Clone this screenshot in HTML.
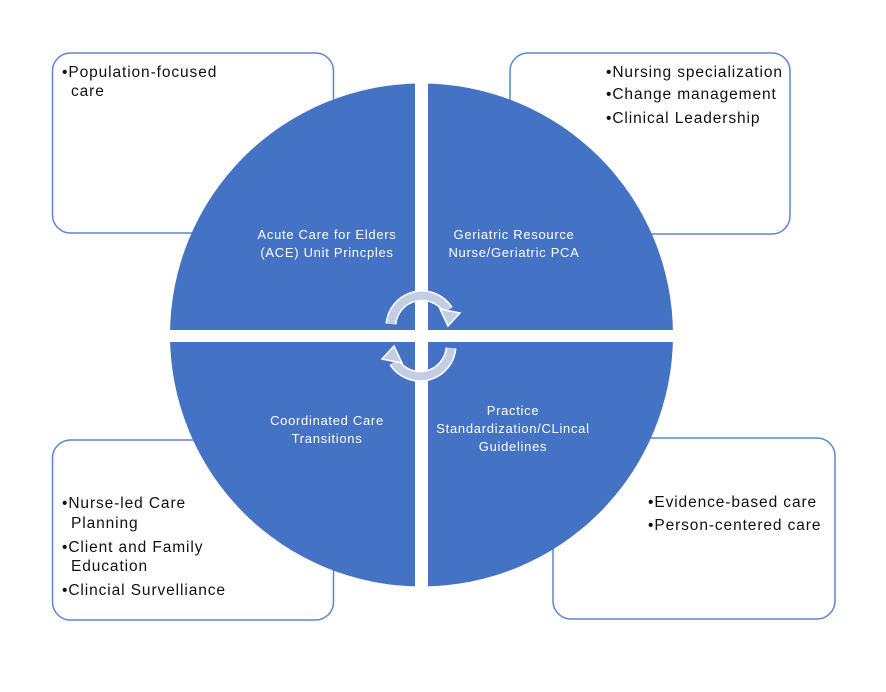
<!DOCTYPE html>
<html><head><meta charset="utf-8"><style>
html,body{margin:0;padding:0;background:#fff;}
svg{display:block;}
text{font-family:"Liberation Sans",sans-serif;}
.b{font-size:15.5px;fill:#111;letter-spacing:0.9px;}
.w{font-size:13px;fill:#fff;text-anchor:middle;letter-spacing:0.7px;}
</style></head><body>
<svg width="886" height="692" viewBox="0 0 886 692" xmlns="http://www.w3.org/2000/svg">
<g fill="#fff" stroke="#5b86cf" stroke-width="1.5">
<rect x="52.5" y="53" width="281" height="180" rx="18"/>
<rect x="510" y="53" width="280" height="181" rx="18"/>
<rect x="52.5" y="440" width="281" height="180" rx="18"/>
<rect x="553" y="438" width="282" height="181" rx="18"/>
</g>
<circle cx="421.5" cy="335" r="251.5" fill="#4472c4"/>
<rect x="415" y="80" width="13" height="512" fill="#fff"/>
<rect x="166" y="330" width="512" height="12" fill="#fff"/>
<g fill="none" stroke-linecap="butt">
<path d="M391 324 A31 31 0 0 1 448 310" stroke="#fff" stroke-width="11"/>
<path d="M391 324 A31 31 0 0 1 448 310" stroke="#c3cde4" stroke-width="8"/>
<path d="M451 348 A31 31 0 0 1 394 362" stroke="#fff" stroke-width="11"/>
<path d="M451 348 A31 31 0 0 1 394 362" stroke="#c3cde4" stroke-width="8"/>
</g>
<polygon points="440,309 460,313 448,326" fill="#c3cde4" stroke="#fff" stroke-width="1.5"/>
<polygon points="402,363 382,359 394,346" fill="#c3cde4" stroke="#fff" stroke-width="1.5"/>
<text class="b" x="62" y="77">•Population-focused</text>
<text class="b" x="71" y="96">care</text>
<text class="b" x="606" y="77">•Nursing specialization</text>
<text class="b" x="606" y="99">•Change management</text>
<text class="b" x="606" y="123">•Clinical Leadership</text>
<text class="b" x="62" y="508">•Nurse-led Care</text>
<text class="b" x="71" y="528">Planning</text>
<text class="b" x="62" y="552">•Client and Family</text>
<text class="b" x="71" y="571">Education</text>
<text class="b" x="62" y="595">•Clincial Survelliance</text>
<text class="b" x="648" y="507">•Evidence-based care</text>
<text class="b" x="648" y="530">•Person-centered care</text>
<text class="w" x="327" y="239">Acute Care for Elders</text>
<text class="w" x="327" y="257">(ACE) Unit Princples</text>
<text class="w" x="514" y="239">Geriatric Resource</text>
<text class="w" x="514" y="257">Nurse/Geriatric PCA</text>
<text class="w" x="327" y="425">Coordinated Care</text>
<text class="w" x="327" y="443">Transitions</text>
<text class="w" x="513" y="415">Practice</text>
<text class="w" x="513" y="433">Standardization/CLincal</text>
<text class="w" x="513" y="451">Guidelines</text>
</svg>
</body></html>
